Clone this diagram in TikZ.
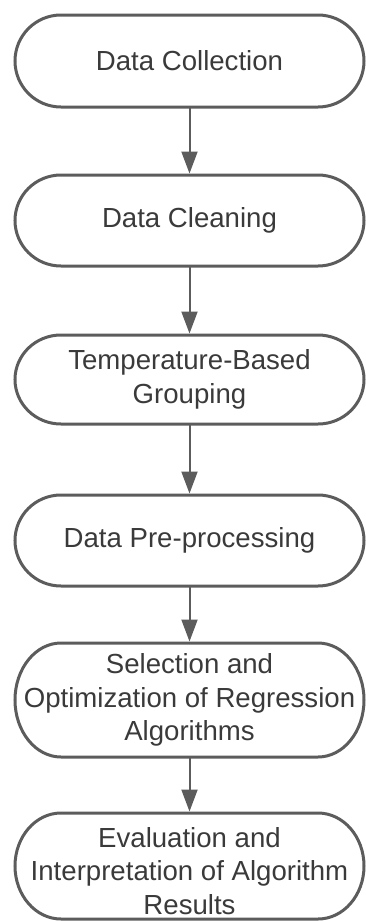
\documentclass[tikz,border=0pt]{standalone}
\usepackage{fontspec}
\setmainfont{Liberation Sans}
\usetikzlibrary{arrows.meta}
\definecolor{edgegray}{HTML}{5C5C5C}
\definecolor{textgray}{HTML}{3A3A3A}
\newcommand\stadbox[4]{%
  \node[stad, minimum height=#3pt] (#1) at (189.5,-#2) {#4};
  \draw[boxline] ([xshift=46pt]#1.north west) -- ([xshift=-46pt]#1.north east)
    arc[start angle=90, end angle=-90, x radius=46pt, y radius=#3pt/2]
    -- ([xshift=46pt]#1.south west)
    arc[start angle=270, end angle=90, x radius=46pt, y radius=#3pt/2] -- cycle;
}
\begin{document}
\begin{tikzpicture}[x=1pt,y=1pt,
  stad/.style={rectangle, draw=none, minimum width=349pt, inner sep=0pt, outer sep=0pt,
    align=center, text=textgray, font=\fontsize{27.6}{33.4}\selectfont},
  boxline/.style={draw=edgegray, line width=3pt},
  flow/.style={draw=edgegray, line width=2pt, shorten >=1.5pt,
    -{Triangle[length=22pt,width=16pt]}}]
\useasboundingbox (0,0) rectangle (365,-921);
\stadbox{n1}{61}{92}{Data Collection}
\stadbox{n2}{220.5}{91}{Data Cleaning}
\stadbox{n3}{379.5}{89}{Temperature-Based\\Grouping}
\stadbox{n4}{540.5}{91}{Data Pre-processing}
\stadbox{n5}{700}{114}{Selection and\\Optimization of Regression\\Algorithms}
\stadbox{n6}{866}{106}{\rule{0pt}{30pt}Evaluation and\\Interpretation of Algorithm\\Results}
\draw[flow] (n1) -- (n2);
\draw[flow] (n2) -- (n3);
\draw[flow] (n3) -- (n4);
\draw[flow] (n4) -- (n5);
\draw[flow] (n5) -- (n6);
\end{tikzpicture}
\end{document}
